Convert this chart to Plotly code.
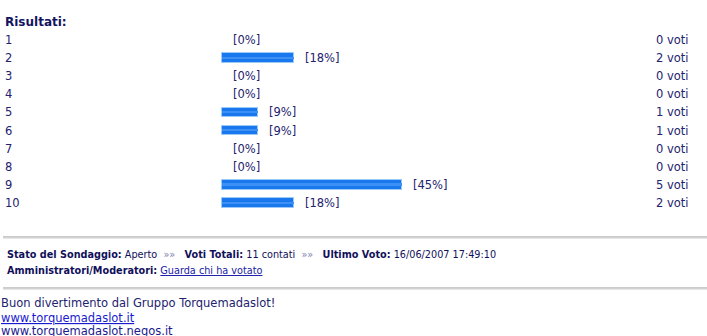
import plotly.graph_objects as go

W, H = 707, 336

categories = ["1", "2", "3", "4", "5", "6", "7", "8", "9", "10"]
percent = [0, 18, 0, 0, 9, 9, 0, 0, 45, 18]
votes = [0, 2, 0, 0, 1, 1, 0, 0, 5, 2]

NB = "\u00a0"
SEP = NB * 2 + "<span style='color:#8080b0'>»»</span>" + NB * 3
title_text = "Risultati:"
status_line = ("<b>Stato del Sondaggio:</b> Aperto" + SEP +
               "<b>Voti Totali:</b> 11 contati" + SEP +
               "<b>Ultimo Voto:</b> 16/06/2007 17:49:10")
admin_line = ("<b>Amministratori/Moderatori:</b> "
              "<span style='color:#1a1aa8;text-decoration:underline'>Guarda chi ha votato</span>")
footer_lines = ["Buon divertimento dal Gruppo Torquemadaslot!",
                "www.torquemadaslot.it",
                "www.torquemadaslot.negos.it"]

TXT = "#22226e"
FONT = "Verdana, DejaVu Sans, sans-serif"

def px_x(p):
    return p / W

def px_y(p):
    return 1 - p / H

fig = go.Figure()
fig.add_trace(go.Bar(
    y=categories, x=percent, orientation="h", width=0.52,
    marker=dict(color="#1a78ee",
                line=dict(color="#9ccaf8", width=[1 if p > 0 else 0 for p in percent])),
    hoverinfo="skip", showlegend=False,
))
fig.add_trace(go.Bar(
    y=categories, x=percent, orientation="h", width=0.1,
    marker=dict(color="#3d90f4", line=dict(width=0)),
    hoverinfo="skip", showlegend=False,
))

annotations = []
annotations.append(dict(xref="paper", yref="paper", x=px_x(3), y=px_y(22),
                        text="<b>" + title_text + "</b>", showarrow=False,
                        xanchor="left", yanchor="middle",
                        font=dict(family=FONT, size=12, color="#141460")))
for i, (cat, p, v) in enumerate(zip(categories, percent, votes)):
    annotations.append(dict(xref="paper", yref="y", x=px_x(3), y=i, text=cat,
                            showarrow=False, xanchor="left", yanchor="middle",
                            font=dict(family=FONT, size=11.5, color=TXT)))
    annotations.append(dict(xref="x", yref="y", x=p, y=i, text="[%d%%]" % p,
                            showarrow=False, xanchor="left", yanchor="middle", xshift=9,
                            font=dict(family=FONT, size=11.5, color=TXT)))
    annotations.append(dict(xref="paper", yref="y", x=px_x(691), y=i, text="%d voti" % v,
                            showarrow=False, xanchor="right", yanchor="middle",
                            font=dict(family=FONT, size=11.5, color=TXT)))

annotations.append(dict(xref="paper", yref="paper", x=px_x(5), y=px_y(254), text=status_line,
                        showarrow=False, xanchor="left", yanchor="middle",
                        font=dict(family=FONT, size=9.7, color="#10105a")))
annotations.append(dict(xref="paper", yref="paper", x=px_x(5), y=px_y(270), text=admin_line,
                        showarrow=False, xanchor="left", yanchor="middle",
                        font=dict(family=FONT, size=9.7, color="#10105a")))
annotations.append(dict(xref="paper", yref="paper", x=px_x(-1), y=px_y(303), text=footer_lines[0],
                        showarrow=False, xanchor="left", yanchor="middle",
                        font=dict(family=FONT, size=11.5, color=TXT)))
annotations.append(dict(xref="paper", yref="paper", x=px_x(-1), y=px_y(318),
                        text="<span style='text-decoration:underline'>" + footer_lines[1] + "</span>",
                        showarrow=False, xanchor="left", yanchor="middle",
                        font=dict(family=FONT, size=11.5, color="#1a1ad0")))
annotations.append(dict(xref="paper", yref="paper", x=px_x(-1), y=px_y(331),
                        text="<span style='text-decoration:underline'>" + footer_lines[2] + "</span>",
                        showarrow=False, xanchor="left", yanchor="middle",
                        font=dict(family=FONT, size=11.5, color="#1a1a90")))

shapes = []
for yy in (237, 288):
    shapes.append(dict(type="line", xref="paper", yref="paper", x0=px_x(3), x1=1,
                       y0=px_y(yy), y1=px_y(yy), line=dict(color="#9a9a9a", width=1.2)))
    shapes.append(dict(type="line", xref="paper", yref="paper", x0=px_x(3), x1=1,
                       y0=px_y(yy + 1.2), y1=px_y(yy + 1.2), line=dict(color="#dcdcdc", width=1)))

row0, step = 40.0, 18.11
fig.update_layout(
    width=W, height=H, margin=dict(l=0, r=0, t=0, b=0),
    paper_bgcolor="white", plot_bgcolor="white",
    barmode="overlay", bargap=0,
    xaxis=dict(range=[-222 / 4, (W - 222) / 4], visible=False, fixedrange=True),
    yaxis=dict(type="category", categoryorder="array", categoryarray=categories,
               range=[(H - row0) / step, -row0 / step], visible=False, fixedrange=True),
    annotations=annotations, shapes=shapes,
)
fig.write_html("out.html")
